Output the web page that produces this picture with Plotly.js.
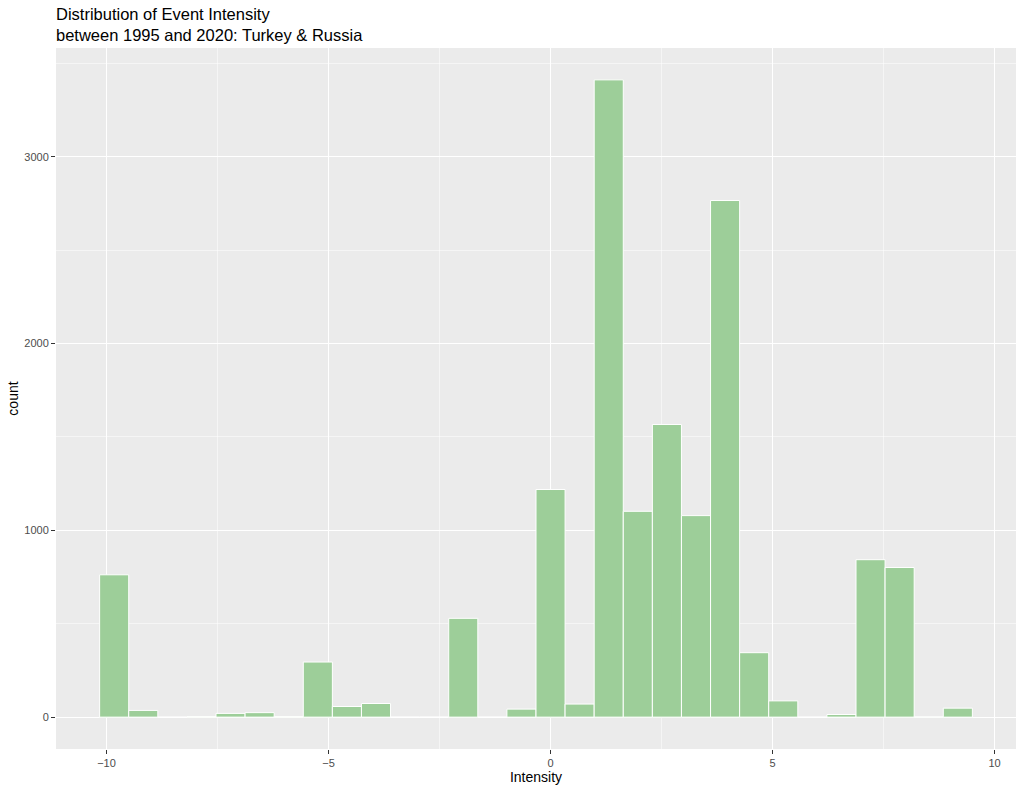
<!DOCTYPE html>
<html>
<head>
<meta charset="utf-8">
<script src="https://cdn.plot.ly/plotly-3.0.1.min.js"></script>
<style>
  html, body { margin: 0; padding: 0; background: #ffffff; }
  #chart { width: 1024px; height: 792px; }
</style>
</head>
<body>
<div id="chart"></div>
<script>
// Histogram of event intensity (30 bins), counts
const binStart = -10.155;
const binWidth = 0.6552;
const counts = [762, 36, 0, 3, 20, 24, 3, 295, 57, 73,
                0, 0, 529, 0, 43, 1219, 70, 3412, 1102, 1567,
                1079, 2766, 345, 87, 0, 14, 843, 801, 2, 48];
const xTickVals = [-10, -5, 0, 5, 10];
const yTickVals = [0, 1000, 2000, 3000];
const titleLines = ['Distribution of Event Intensity', 'between 1995 and 2020: Turkey &amp; Russia'];

const centers = counts.map((c, i) => binStart + binWidth * (i + 0.5));

const trace = {
  type: 'bar',
  x: centers,
  y: counts,
  width: binWidth,
  marker: { color: '#9DCE99', line: { color: '#ffffff', width: 1 } },
  hoverinfo: 'x+y'
};

const binEnd = binStart + binWidth * counts.length;
const xr = binEnd - binStart;
const ymax = Math.max(...counts);
const FONT = 'Liberation Sans, Arial, sans-serif';
const plotH = 792 - 48 - 43;

const axisCommon = {
  showgrid: true,
  gridcolor: '#ffffff',
  gridwidth: 1.1,
  zeroline: false,
  showline: false,
  ticks: 'outside',
  ticklen: 4,
  tickwidth: 1,
  tickcolor: '#333333',
  tickfont: { family: FONT, size: 11, color: '#4D4D4D' }
};

const layout = {
  width: 1024,
  height: 792,
  paper_bgcolor: '#ffffff',
  plot_bgcolor: '#EBEBEB',
  margin: { l: 56, r: 8, t: 48, b: 43 },
  showlegend: false,
  bargap: 0,
  font: { family: FONT, color: '#000000' },
  annotations: [{
    text: titleLines.join('<br>'),
    xref: 'paper', yref: 'paper',
    x: 0, xanchor: 'left', xshift: -2,
    y: 1 + 45 / plotH, yanchor: 'top',
    align: 'left',
    showarrow: false,
    font: { family: FONT, size: 16.5, color: '#000000' }
  }],
  xaxis: Object.assign({}, axisCommon, {
    range: [binStart - 0.05 * xr, binEnd + 0.05 * xr],
    tickmode: 'array',
    tickvals: xTickVals,
    minor: { showgrid: true, gridcolor: '#ffffff', gridwidth: 0.5, ticks: '', tickmode: 'array', tickvals: [-7.5, -2.5, 2.5, 7.5] },
    title: { text: 'Intensity', font: { family: FONT, size: 14, color: '#000000' }, standoff: 2 }
  }),
  yaxis: Object.assign({}, axisCommon, {
    range: [-0.05 * ymax, 1.05 * ymax],
    tickmode: 'array',
    tickvals: yTickVals,
    minor: { showgrid: true, gridcolor: '#ffffff', gridwidth: 0.5, ticks: '', tickmode: 'array', tickvals: [500, 1500, 2500, 3500] },
    title: { text: 'count', font: { family: FONT, size: 14, color: '#000000' }, standoff: 2 }
  })
};

Plotly.newPlot('chart', [trace], layout, { displayModeBar: false, staticPlot: true });
</script>
</body>
</html>
